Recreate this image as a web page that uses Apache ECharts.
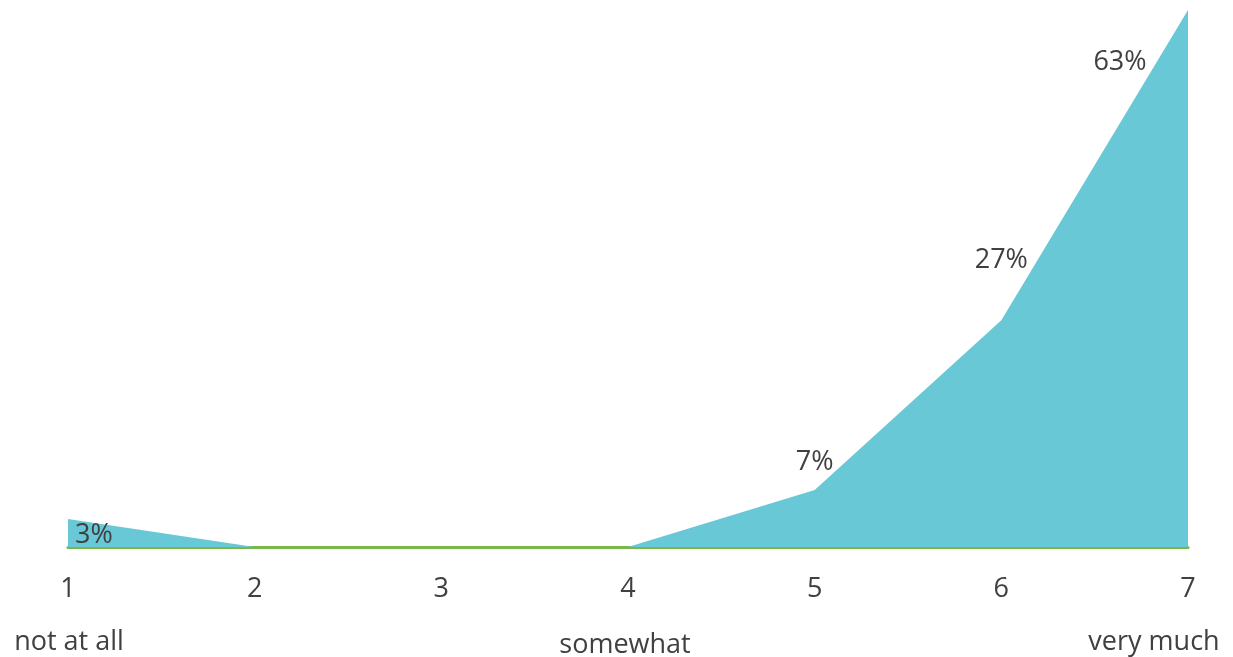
<!DOCTYPE html>
<html>
<head>
<meta charset="utf-8">
<script src="https://cdn.jsdelivr.net/npm/echarts@6/dist/echarts.min.js"></script>
<style>html,body{margin:0;padding:0;background:#fff}#c{width:1233px;height:657px}</style>
</head>
<body>
<div id="c"></div>
<script>
const categories = ['1', '2', '3', '4', '5', '6', '7'];
const values = [3.3, 0, 0, 0, 6.7, 26.7, 63.2];
const anchorLabels = ['not at all', 'somewhat', 'very much'];

const chart = echarts.init(document.getElementById('c'));
const FONT = '"Open Sans", Lato, sans-serif';
const TXT = '#404040';
const FS = 27;
// label placement (styling only)
const labelOffsets = [[26, 16], null, null, null, [0, -28], [0, -60], [-68, 52]];

const seriesData = values.map((v, i) => {
  const off = labelOffsets[i];
  return {
    value: v,
    label: off ? { show: true, position: 'inside', offset: off } : { show: false }
  };
});

const textEl = (t, x, y) => ({
  type: 'text', x: x, y: y,
  style: { text: t, fill: TXT, fontSize: FS, fontFamily: FONT, align: 'center', verticalAlign: 'middle' }
});

chart.setOption({
  animation: false,
  grid: { left: 68, right: 45, top: 10, bottom: 110, containLabel: false },
  xAxis: {
    type: 'category',
    data: categories,
    boundaryGap: false,
    axisLine: { lineStyle: { color: '#7AB648', width: 3 } },
    axisTick: { show: false },
    axisLabel: { color: TXT, fontSize: FS, fontFamily: FONT, margin: 29 },
    splitLine: { show: false }
  },
  yAxis: {
    type: 'value', min: 0, max: 63.2,
    show: false, splitLine: { show: false }
  },
  series: [{
    type: 'line',
    data: seriesData,
    symbol: 'circle',
    symbolSize: 1,
    showSymbol: true,
    itemStyle: { color: 'rgba(0,0,0,0)' },
    lineStyle: { width: 0 },
    areaStyle: { color: '#69C8D6', opacity: 1 },
    label: {
      show: true,
      color: TXT, fontSize: FS, fontFamily: FONT,
      formatter: p => Math.round(p.value) + '%'
    },
    z: 1
  }],
  graphic: [
    textEl(anchorLabels[0], 69, 642),
    textEl(anchorLabels[1], 625, 645),
    textEl(anchorLabels[2], 1154, 642)
  ]
});
</script>
</body>
</html>
